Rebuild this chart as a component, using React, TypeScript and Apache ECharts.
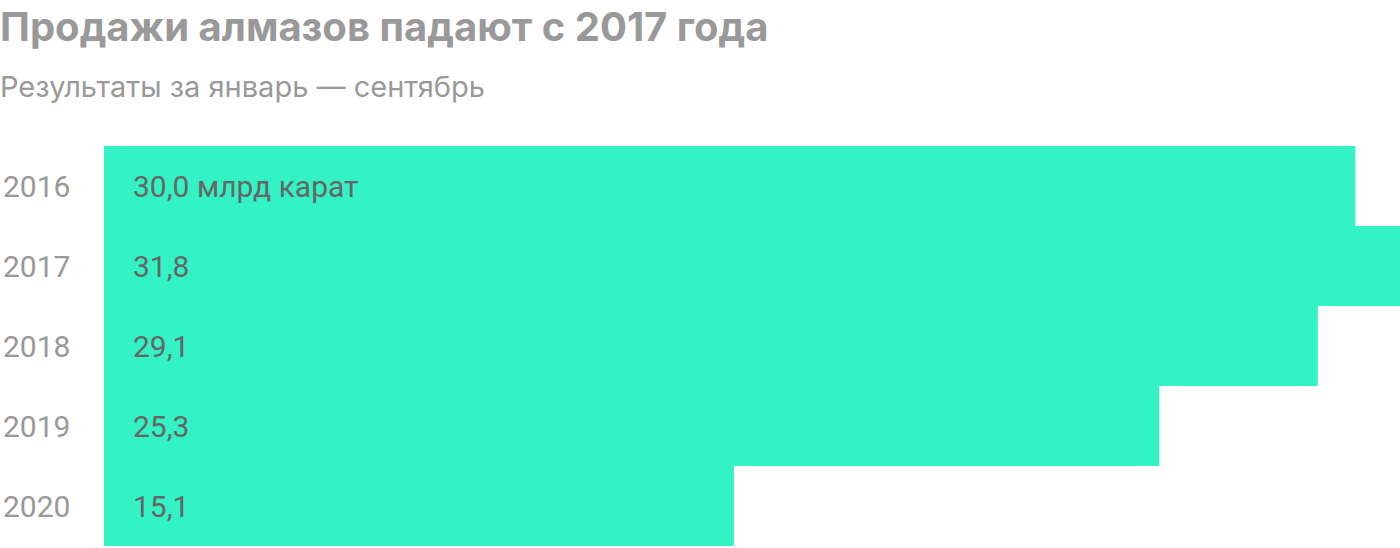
import React, { useEffect, useRef } from "react";
import * as echarts from "echarts";

const years = ["2016", "2017", "2018", "2019", "2020"];
const sales = [30.0, 31.8, 29.1, 25.3, 15.1];
const unit = "млрд карат";

const fmt = (v: number) => v.toFixed(1).replace(".", ",");

const App: React.FC = () => {
  const chartRef = useRef<HTMLDivElement>(null);

  useEffect(() => {
    const dom = chartRef.current;
    if (!dom) return;
    const chart = echarts.init(dom, undefined, { renderer: "svg" });

    const option: echarts.EChartsOption = {
      animation: false,
      textStyle: { fontFamily: "Roboto" },
      title: [
        {
          text: "Продажи алмазов падают с 2017 года",
          left: 0,
          top: 6,
          padding: 0,
          textStyle: { fontSize: 40, fontWeight: "bold", color: "#999999", fontFamily: "Inter" },
        },
        {
          text: "Результаты за январь — сентябрь",
          left: 0,
          top: 72,
          padding: 0,
          textStyle: { fontSize: 29, fontWeight: "normal", color: "#999999", fontFamily: "Inter" },
        },
      ],
      grid: { left: 102, right: 0, top: 146, bottom: 2, containLabel: false },
      xAxis: {
        type: "value",
        min: 0,
        max: 31.07,
        show: false,
      },
      yAxis: {
        type: "category",
        data: years,
        inverse: true,
        axisLine: { show: false },
        axisTick: { show: false },
        splitLine: { show: false },
        axisLabel: {
          align: "left",
          margin: 101,
          fontSize: 30,
          color: "#999999",
          fontFamily: "Roboto",
        },
      },
      series: [
        {
          type: "bar",
          data: sales,
          barWidth: "100%",
          barCategoryGap: 0,
          clip: true,
          itemStyle: { color: "#33f3c5" },
          label: {
            show: true,
            position: "insideLeft",
            distance: 29,
            fontSize: 30,
            color: "#666666",
            fontFamily: "Roboto",
            formatter: (p: any) =>
              p.dataIndex === 0 ? `${fmt(p.value)} ${unit}` : fmt(p.value),
          },
        },
      ],
    };

    chart.setOption(option);
    return () => {
      chart.dispose();
    };
  }, []);

  return (
    <div
      ref={chartRef}
      style={{ position: "absolute", left: 0, top: 0, width: 1400, height: 548 }}
    />
  );
};

export default App;
